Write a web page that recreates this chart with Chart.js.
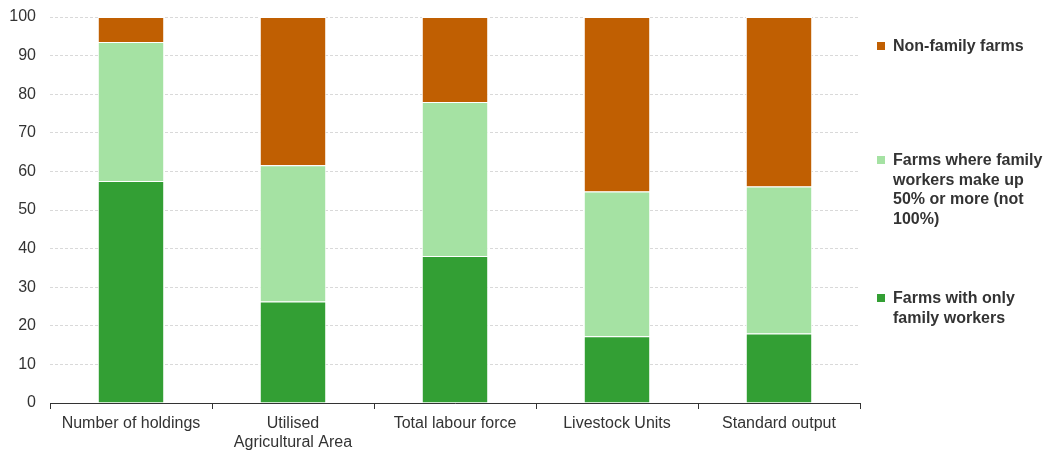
<!DOCTYPE html>
<html>
<head>
<meta charset="utf-8">
<script src="https://cdn.jsdelivr.net/npm/chart.js@4.4.1/dist/chart.umd.min.js"></script>
<style>
  html, body { margin: 0; padding: 0; background: #fff; }
  #wrap { position: relative; width: 1045px; height: 452px; }
  .legend_item { position: absolute; left: 877px; font: bold 16px 'Liberation Sans', Arial, sans-serif; color: #333; line-height: 19.5px; }
  .legend_item span.box { position: absolute; left: 0; top: 6px; width: 8px; height: 8px; }
  .legend_item div.txt { margin-left: 16px; white-space: nowrap; }
</style>
</head>
<body>
<div id="wrap">
  <canvas id="farmChart" width="1045" height="452"></canvas>
</div>
<script>
const categories = ['Number of holdings', ['Utilised', 'Agricultural Area'], 'Total labour force', 'Livestock Units', 'Standard output']
const onlyFamily = [57.5, 26.3, 38.1, 17.3, 18.0]
const mostlyFamily = [36.0, 35.3, 39.9, 37.5, 38.1]
const nonFamily = [6.5, 38.4, 22.0, 45.2, 43.9]
const yTicks = [0, 10, 20, 30, 40, 50, 60, 70, 80, 90, 100]

const seriesNames = ['Farms with only family workers', 'Farms where family workers make up 50% or more (not 100%)', 'Non-family farms']
const legendLines = [['Farms with only', 'family workers'], ['Farms where family', 'workers make up', '50% or more (not', '100%)'], ['Non-family farms']]
const legendTop = [288, 150, 36]
const colors = ['#339f34', '#a5e2a3', '#c05f02']

const wrap = document.querySelector('#wrap')
legendLines.forEach((lines, i) => {
    const item = document.createElement('div')
    item.className = 'legend_item'
    item.style.top = legendTop[i] + 'px'
    item.innerHTML = `<span class="box" style="background:${colors[i]}"></span><div class="txt">${lines.join('<br>')}</div>`
    wrap.appendChild(item)
})

const ctx = document.querySelector('#farmChart').getContext('2d')
const myChart = new Chart(ctx, {
    type: 'bar',
    data: {
        labels: categories,
        datasets: [onlyFamily, mostlyFamily, nonFamily].map((values, i) => ({
            label: seriesNames[i],
            data: values,
            backgroundColor: colors[i],
            borderColor: '#ffffff',
            borderWidth: 1,
            barPercentage: 0.41,
            categoryPercentage: 1
        }))
    },
    options: {
        responsive: false,
        animation: false,
        layout: { padding: { top: 17, right: 185, left: 0, bottom: 0 } },
        plugins: {
            legend: { display: false },
            tooltip: { enabled: false }
        },
        scales: {
            x: {
                stacked: true,
                grid: { drawOnChartArea: false, tickLength: 6, color: '#333', offset: true },
                border: { display: true, color: '#333', width: 1 },
                ticks: { color: '#333', font: { family: 'Liberation Sans', size: 16 }, padding: 5, maxRotation: 0 },
                afterFit: scale => { scale.height = 49; scale.paddingLeft = 0; scale.paddingRight = 0 }
            },
            y: {
                stacked: true,
                min: 0,
                max: 100,
                afterBuildTicks: scale => { scale.ticks = yTicks.map(v => ({ value: v })) },
                grid: { color: '#d9d9d9', drawTicks: false },
                border: { display: false, dash: [3, 2] },
                ticks: { color: '#333', font: { family: 'Liberation Sans', size: 16 }, padding: 14 },
                afterFit: scale => { scale.width = 50; scale.paddingTop = 0; scale.paddingBottom = 0 }
            }
        }
    }
})
</script>
</body>
</html>
